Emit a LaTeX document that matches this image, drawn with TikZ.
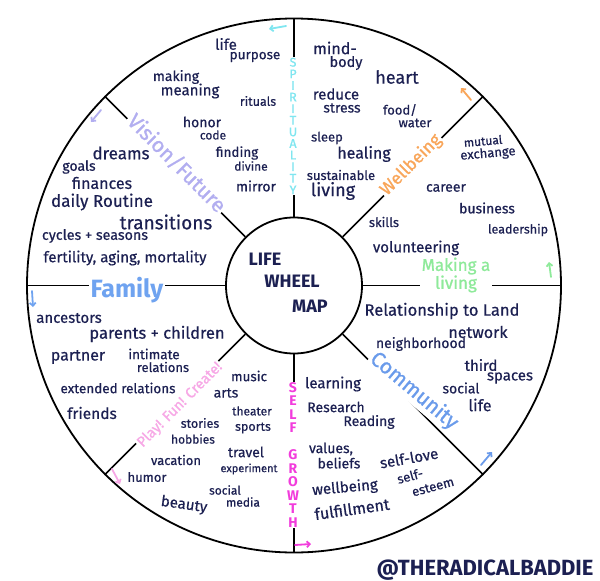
\documentclass[tikz,border=0pt]{standalone}
\usepackage{fontspec}
\setmainfont{Fira Sans}
\newfontfamily\hand{Fira Sans}[FakeBold=0.5]
\newfontfamily\handlbl{Fira Sans}[FakeBold=1]
\usetikzlibrary{arrows.meta}
\definecolor{ink}{HTML}{1C2052}
\definecolor{spcyan}{HTML}{7FE6F0}
\definecolor{vislav}{HTML}{B2AEF0}
\definecolor{wellor}{HTML}{F9A65A}
\definecolor{livgreen}{HTML}{8EEA9A}
\definecolor{commblue}{HTML}{6A9BEB}
\definecolor{famblue}{HTML}{6FA3F0}
\definecolor{selfmag}{HTML}{F23CDC}
\definecolor{playpink}{HTML}{F7A8E6}
\newcommand\fsz[1]{\fontsize{#1}{#1}\selectfont}
\tikzset{
  w/.style={text=ink, inner sep=0pt, font=\hand\fsz{#1}},
  w/.default=14,
  ring/.style={circle, draw=black, line width=1.8pt, inner sep=0pt},
  spoke/.style={draw=black, line width=1.6pt},
  lbl/.style={fill=white, inner sep=1.5pt, align=center, font=\handlbl\fsz{#1}},
  vlab/.style={fill=white, inner sep=1pt, align=center},
  ctr/.style={text=ink, inner sep=0pt, font=\fsz{18}\bfseries},
  marker/.style={line width=1.8pt, line cap=round, -{Straight Barb[length=3pt,width=6pt]}}
}
\begin{document}
\begin{tikzpicture}[x=1pt,y=-1pt]
\useasboundingbox (0,0) rectangle (600,581);
\fill[white] (0,0) rectangle (600,581);

% wheel
\node[ring, minimum size=534pt] (outer) at (294,285.5) {};
\node[ring, minimum size=136pt] (inner) at (294,285.5) {};
\foreach \a in {90,45,0,-45,-90,-135,180,135}
  \draw[spoke] (inner.\a) -- (outer.\a);

% centre
\node[ctr] (tLife) at (265,259) {LIFE};
\node[ctr] (tWheel) at (292,281) {WHEEL};
\node[ctr] (tMap) at (310,306) {MAP};

% category labels on spokes
\node[vlab, text=spcyan, font=\handlbl\fontsize{12.5}{11.6}\selectfont] (spirit) at (293,126)
  {S\\P\\I\\R\\I\\T\\U\\A\\L\\I\\T\\Y};
\node[vlab, text=selfmag, font=\fontsize{14}{13.5}\selectfont\bfseries] (selfg) at (293,455)
  {S\\E\\L\\F\\[13.5pt]G\\R\\O\\W\\T\\H};
\node[lbl=21, text=vislav, rotate=-45] (vision) at (177,163) {Vision/Future};
\node[lbl=17.5, text=wellor, rotate=45] (wellb) at (411,165) {Wellbeing};
\node[lbl=16, text=livgreen, font=\handlbl\fontsize{17}{16}\selectfont] (living) at (456,275) {Making a\\living};
\node[lbl=21, text=commblue, rotate=-40] (commun) at (414,391) {Community};
\node[lbl=25, text=famblue, font=\fsz{25}\bfseries] (family) at (127,290) {Family};
\node[lbl=14.5, text=playpink, rotate=45] (play) at (180,405) {Play! Fun! Create!};

% direction marks
\coordinate (m1a) at (286,26); \coordinate (m1b) at (269,29);
\coordinate (m2a) at (471,100); \coordinate (m2b) at (461,88);
\coordinate (m3a) at (551,277); \coordinate (m3b) at (549,262);
\coordinate (m4a) at (481,465); \coordinate (m4b) at (492,452);
\coordinate (m5a) at (295,545); \coordinate (m5b) at (311,544);
\coordinate (m6a) at (112,469); \coordinate (m6b) at (120,484);
\coordinate (m7a) at (32,291); \coordinate (m7b) at (33,307);
\coordinate (m8a) at (101,110); \coordinate (m8b) at (91,122);
\draw[marker, spcyan] (m1a) -- (m1b);
\draw[marker, wellor] (m2a) -- (m2b);
\draw[marker, livgreen] (m3a) -- (m3b);
\draw[marker, commblue] (m4a) -- (m4b);
\draw[marker, selfmag] (m5a) -- (m5b);
\draw[marker, playpink] (m6a) -- (m6b);
\draw[marker, famblue] (m7a) -- (m7b);
\draw[marker, vislav] (m8a) -- (m8b);

% spirituality sector
\node[w=15] (s1) at (226,44) {life};
\node[w=13.5] (s2) at (255,57) {purpose};
\node[w=14] (s3) at (176,77) {making};
\node[w=15] (s4) at (190,91) {meaning};
\node[w=12.5] (s5) at (258,101) {rituals};
\node[w=14] (s6) at (202,122) {honor};
\node[w=12] (s7) at (213,135) {code};
\node[w=13.5] (s8) at (237,153) {finding};
\node[w=12] (s9) at (251,166) {divine};
\node[w=14] (s10) at (256,186) {mirror};

% vision sector
\node[w=17] (v1) at (121,153) {dreams};
\node[w=14] (v2) at (79,167) {goals};
\node[w=16] (v3) at (102,183) {finances};
\node[w=17] (v4) at (102,202) {daily Routine};
\node[w=19] (v5) at (166,222) {transitions};
\node[w=14.3] (v6) at (95,236) {cycles + seasons};
\node[w=15] (v7) at (125,258) {fertility, aging, mortality};

% wellbeing sector
\node[w=16] (b1) at (335,48) {mind-};
\node[w=14.5] (b2) at (346,63) {body};
\node[w=18] (b3) at (397,77) {heart};
\node[w=15] (b4) at (336,94) {reduce};
\node[w=14] (b5) at (342,108) {stress};
\node[w=13] (b6) at (400,110) {food/};
\node[w=13] (b7) at (415,123) {water};
\node[w=13] (b8) at (327,138) {sleep};
\node[w=16] (b9) at (364,154) {healing};
\node[w=13] (b10) at (341,175) {sustainable};
\node[w=18] (b11) at (333,191) {living};

% making a living sector
\node[w=12, rotate=5] (l1) at (483,141) {mutual};
\node[w=13, rotate=5] (l2) at (488,154) {exchange};
\node[w=14] (l3) at (446,188) {career};
\node[w=14] (l4) at (487,208) {business};
\node[w=12.5] (l5) at (518,230) {leadership};
\node[w=13] (l6) at (384,222) {skills};
\node[w=15] (l7) at (416,248) {volunteering};

% community sector
\node[w=16.5] (c1) at (442,311) {Relationship to Land};
\node[w=16] (c2) at (478,332) {network};
\node[w=14] (c3) at (421,344) {neighborhood};
\node[w=15] (c4) at (481,365) {third};
\node[w=15] (c5) at (510,378) {spaces};
\node[w=14] (c6) at (461,388) {social};
\node[w=16] (c7) at (480,405) {life};

% self growth sector
\node[w=15] (g1) at (333,384) {learning};
\node[w=14] (g2) at (336,407) {Research};
\node[w=14] (g3) at (369,422) {Reading};
\node[w=14] (g4) at (331,449) {values,};
\node[w=14] (g5) at (339,463) {beliefs};
\node[w=15, rotate=10] (g6) at (409,458) {self-love};
\node[w=15, rotate=5] (g7) at (345,488) {wellbeing};
\node[w=13, rotate=15] (g8) at (410,476) {self-};
\node[w=13, rotate=15] (g9) at (433,487) {esteem};
\node[w=16, rotate=8] (g10) at (352,509) {fulfillment};

% family sector
\node[w=15] (f1) at (69,318) {ancestors};
\node[w=16.5] (f2) at (157,334) {parents + children};
\node[w=16] (f3) at (78,357) {partner};
\node[w=13.5] (f4) at (154,354) {intimate};
\node[w=13] (f5) at (163,367) {relations};
\node[w=13.5] (f6) at (118,388) {extended relations};
\node[w=15.5] (f7) at (92,413) {friends};

% play sector
\node[w=13.5] (p1) at (249,376) {music};
\node[w=14] (p2) at (226,393) {arts};
\node[w=12] (p3) at (252,411) {theater};
\node[w=12.5] (p4) at (200,423) {stories};
\node[w=12.5] (p5) at (253,428) {sports};
\node[w=12] (p6) at (193,439) {hobbies};
\node[w=14] (p7) at (246,452) {travel};
\node[w=13] (p8) at (176,460) {vacation};
\node[w=11] (p9) at (249,469) {experiment};
\node[w=13] (p10) at (147,477) {humor};
\node[w=12] (p11) at (225,490) {social};
\node[w=12] (p12) at (243,502) {media};
\node[w=15, rotate=-8] (p13) at (184,505) {beauty};

% handle
\node[text=ink, inner sep=0pt, font=\fsz{22}\bfseries] (handle) at (485,570) {@THERADICALBADDIE};
\end{tikzpicture}
\end{document}
